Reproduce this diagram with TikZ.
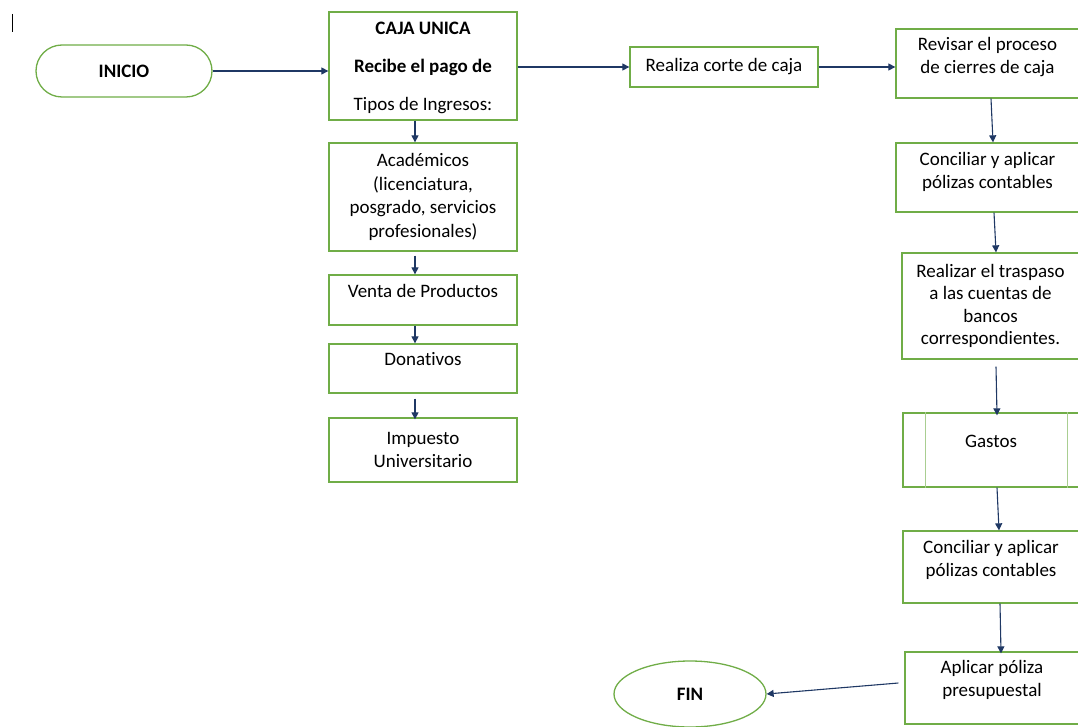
\documentclass[tikz,border=0pt]{standalone}
\usepackage{fontspec}
\setmainfont{Carlito}[Ligatures=NoCommon]
\usepackage{xcolor}
\usetikzlibrary{arrows.meta,shapes.geometric,positioning}

\definecolor{verdecaja}{RGB}{112,173,71}
\definecolor{azulflecha}{RGB}{31,56,100}
\newcommand{\letra}{\fontsize{19}{22.5}\selectfont}

\tikzset{
  caja/.style={draw=verdecaja, line width=1.3pt, fill=white, align=center, inner sep=2pt},
  inicial/.style={caja, rounded corners=26pt, minimum width=176pt, minimum height=52pt, font=\letra\bfseries},
  final/.style={caja, ellipse, inner sep=0pt, minimum width=152pt, minimum height=66pt, font=\letra\bfseries},
  flujo/.style={draw=azulflecha, line width=1.1pt, -{Triangle[width=7pt,length=7pt]}},
  arriba/.style={text depth=#1},
}

\begin{document}
\begin{tikzpicture}[x=1pt, y=-1pt, font=\letra]
    \useasboundingbox (0,0) rectangle (1078,727);

    % cursor mark top left
    \draw[line width=1pt] (12,14) -- (12,32);

    % Inicio y caja unica
    \node[inicial] (inicio) at (124,71) {INICIO};
    \node[caja, minimum width=188pt, minimum height=108pt, arriba=-3.5pt] (cajaunica) at (423,66)
        {\textbf{CAJA UNICA}\\[15.5pt]\textbf{Recibe el pago de}\\[15.5pt]Tipos de Ingresos:};

    % Tipos de ingresos
    \node[caja, minimum width=188pt, minimum height=108pt] (academicos) at (423,197)
        {Académicos\\[1pt](licenciatura,\\[1pt]posgrado, servicios\\[1pt]profesionales)};
    \node[caja, minimum width=188pt, minimum height=50pt, arriba=18pt] (venta) at (423,300) {Venta de Productos};
    \node[caja, minimum width=188pt, minimum height=49pt, arriba=20pt] (donativos) at (423,368.5) {Donativos};
    \node[caja, minimum width=188pt, minimum height=64pt] (impuesto) at (423,450) {Impuesto\\Universitario};

    % Corte de caja
    \node[caja, minimum width=188pt, minimum height=40pt] (corte) at (724,67) {Realiza corte de caja};

    % Columna derecha
    \node[caja, minimum width=183pt, minimum height=69pt, arriba=16pt] (revisar) at (987.5,63.5)
        {Revisar el proceso\\de cierres de caja};
    \node[caja, minimum width=183pt, minimum height=69pt, arriba=14pt] (conciliar) at (987.5,177.5)
        {Conciliar y aplicar\\pólizas contables};
    \node[caja, minimum width=177pt, minimum height=106pt] (traspaso) at (990.5,306)
        {Realizar el traspaso\\a las cuentas de\\bancos\\correspondientes.};
    \node[caja, minimum width=176pt, minimum height=74pt, arriba=18pt] (gastos) at (991,450) {Gastos};
    \draw[verdecaja!60, line width=1.5pt] ([xshift=23pt]gastos.north west) -- ([xshift=23pt]gastos.south west);
    \draw[verdecaja!60, line width=1.5pt] ([xshift=-12pt]gastos.north east) -- ([xshift=-12pt]gastos.south east);
    \node[caja, minimum width=176pt, minimum height=72pt, arriba=17pt] (conciliarb) at (991,567)
        {Conciliar y aplicar\\pólizas contables};
    \node[caja, minimum width=174pt, minimum height=72pt, arriba=19pt] (aplicar) at (992,688)
        {Aplicar póliza\\presupuestal};

    % Fin
    \node[final] (fin) at (690,694) {FIN};

    % Conectores
    \draw[flujo] (inicio.east) -- (inicio.east -| cajaunica.west);
    \draw[flujo] (cajaunica.east |- corte) -- (corte.west);
    \draw[flujo] (corte.east) -- (corte.east -| revisar.west);

    \draw[flujo] ([xshift=-8pt]cajaunica.south) -- ([xshift=-8pt]academicos.north);
    \draw[flujo] ([xshift=-8pt,yshift=-4pt]academicos.south) -- ([xshift=-8pt]venta.north);
    \draw[flujo] ([xshift=-8pt]venta.south) -- ([xshift=-8pt]donativos.north);
    \draw[flujo] ([xshift=-8pt,yshift=-5pt]donativos.south) -- ([xshift=-8pt,yshift=-2pt]impuesto.north);

    \draw[flujo] ([xshift=3.5pt]revisar.south) -- ([xshift=5.5pt]conciliar.north);
    \draw[flujo] ([xshift=6.5pt]conciliar.south) -- ([xshift=5.5pt]traspaso.north);
    \draw[flujo] ([xshift=5.5pt,yshift=-7pt]traspaso.south) -- ([xshift=6pt,yshift=-3pt]gastos.north);
    \draw[flujo] ([xshift=6pt]gastos.south) -- ([xshift=8pt]conciliarb.north);
    \draw[flujo] ([xshift=9pt]conciliarb.south) -- ([xshift=9pt,yshift=-2pt]aplicar.north);
    \draw[flujo] ([xshift=-6pt,yshift=5pt]aplicar.west) -- (fin.east);
\end{tikzpicture}
\end{document}
